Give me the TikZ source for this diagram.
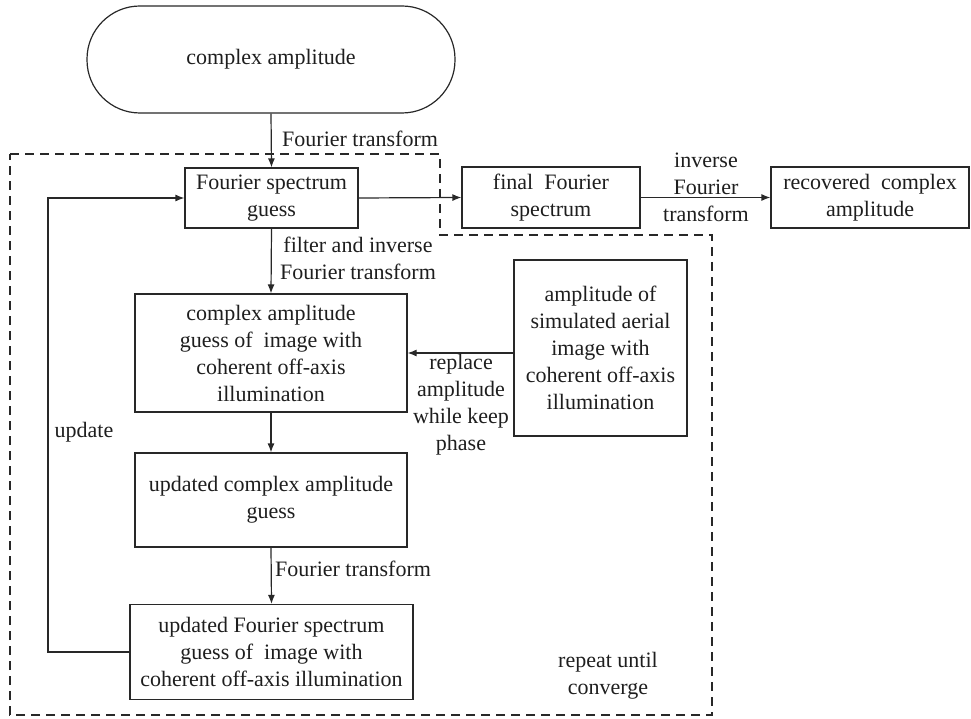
\documentclass[tikz,border=0pt]{standalone}
\usepackage{fontspec}
\setmainfont{Liberation Serif}
\usetikzlibrary{arrows.meta}
\definecolor{lc}{RGB}{40,40,40}
\definecolor{tc}{RGB}{30,30,30}
\begin{document}
\begin{tikzpicture}[x=1pt,y=-1pt,
  every node/.style={font=\fontsize{22}{27}\selectfont, text=tc, align=center, inner sep=2pt},
  box/.style={draw=lc, line width=1.2pt, minimum width=#1},
  arr/.style={draw=lc, line width=1.2pt, -{Latex[length=9pt,width=7pt]}},
  dashbox/.style={draw=lc, line width=1.2pt, dash pattern=on 9pt off 6pt}
]
\useasboundingbox (0,0) rectangle (971,719);

\node[box=368, minimum height=107, rounded corners=53] (term) at (271,59.5) {complex amplitude};
\node[box=173, minimum height=60] (fsg) at (271.5,198) {Fourier spectrum\\guess};
\node[box=178, minimum height=61] (final) at (551,197.5) {final~ Fourier\\spectrum};
\node[box=198, minimum height=61] (rec) at (870,197.5) {recovered~ complex\\amplitude};
\node[box=272, minimum height=118] (cag) at (271,353) {complex amplitude\\guess of~ image with\\coherent off-axis\\illumination};
\node[box=173, minimum height=176] (amp) at (600.5,348) {amplitude of\\simulated aerial\\image with\\coherent off-axis\\illumination};
\node[box=272, minimum height=94] (ucag) at (271,500) {updated complex amplitude\\guess};
\node[box=283, minimum height=95] (ufsg) at (271.5,652) {updated Fourier spectrum\\guess of~ image with\\coherent off-axis illumination};

\draw[dashbox] (10,154) -- (440,154) -- (440,235) -- (712,235) -- (712,715) -- (10,715) -- cycle;

\draw[arr] (term.south) -- (fsg.north);
\node[anchor=west] (l1) at (280,139) {Fourier transform};
\draw[arr] (fsg.east) -- (final.west);
\draw[arr] (final.east) -- (rec.west);
\node (l2) at (706,187) {inverse\\Fourier\\transform};
\draw[arr] (fsg.south) -- (cag.north);
\node (l3) at (358,258) {filter and inverse\\Fourier transform};
\draw[arr] (amp.west |- cag.east) -- (cag.east);
\node (l4) at (461,405) {replace\\amplitude\\while keep\\phase};
\draw[arr] (cag.south) -- (ucag.north);
\draw[arr] (ucag.south) -- (ufsg.north);
\node[anchor=west] (l5) at (273,569) {Fourier transform};
\coordinate (c1) at (48,652);
\coordinate (c2) at (48,198);
\draw[arr] (ufsg.west) -- (c1) -- (c2) -- (fsg.west);
\node (l6) at (84,432) {update};
\node (l7) at (608,676) {repeat until\\converge};
\end{tikzpicture}
\end{document}
